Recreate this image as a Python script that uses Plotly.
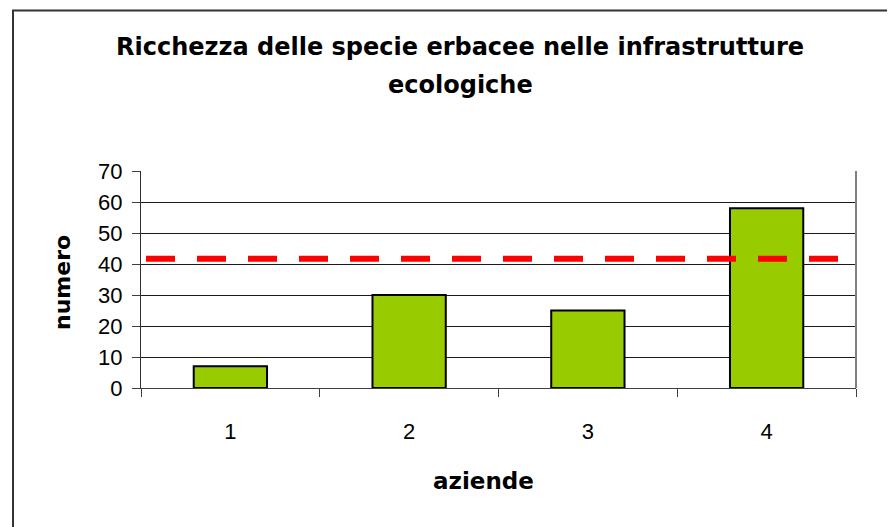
import plotly.graph_objects as go

categories = ["1", "2", "3", "4"]
values = [7, 30, 25, 58]
reference_value = 41.7
y_ticks = [0, 10, 20, 30, 40, 50, 60, 70]

title_line1 = "Ricchezza delle specie erbacee nelle infrastrutture"
title_line2 = "ecologiche"
x_title = "aziende"
y_title = "numero"

FONT = "Liberation Sans, Arial, sans-serif"
TFONT = "DejaVu Sans, Liberation Sans, sans-serif"

OFF = 8  # default body margin of the html page
W, H = 895 - OFF, 527 - OFF
# plot area in screen pixels: x 141..856, y 171..388
L, T = 141 - OFF, 171 - OFF
R = W - (856 - OFF)
B = H - (388 - OFF)
pw, ph = W - L - R, H - T - B

def sx(px):
    return (px - OFF - L) / pw

def sy(py):
    return (H - B - (py - OFF)) / ph

fig = go.Figure()
fig.add_trace(go.Bar(
    x=categories, y=values,
    marker=dict(color="#99CC00", line=dict(color="#000000", width=2)),
    width=0.41,
    hoverinfo="x+y",
))

fig.update_layout(
    width=W, height=H,
    margin=dict(l=L, r=R, t=T, b=B, autoexpand=False),
    paper_bgcolor="white", plot_bgcolor="white",
    showlegend=False,
    font=dict(family=FONT, size=22, color="#000000"),
    xaxis=dict(
        type="category",
        tickson="boundaries",
        ticks="outside", ticklen=8, tickcolor="#404040", tickwidth=1,
        showline=True, linecolor="#404040", linewidth=1,
        showgrid=False,
        tickfont=dict(family=FONT, size=22),
        ticklabelstandoff=24,
        range=[-0.5, 3.5],
    ),
    yaxis=dict(
        range=[0, 70], tickvals=y_ticks,
        ticks="outside", ticklen=8, tickcolor="#404040", tickwidth=1,
        showline=True, linecolor="#303030", linewidth=1,
        showgrid=True, gridcolor="#1a1a1a", gridwidth=1,
        zeroline=False,
        tickfont=dict(family=FONT, size=22),
        ticklabelstandoff=5,
    ),
)

# right border of plot area
fig.add_shape(type="line", xref="x domain", yref="y domain",
              x0=1, x1=1, y0=0, y1=1, line=dict(color="#808080", width=2))

# reference dashed line
fig.add_shape(type="line", xref="x domain", yref="y",
              x0=0.007, x1=0.99, y0=reference_value, y1=reference_value,
              line=dict(color="#FF0000", width=6, dash="29px,22px"))

# chart outer border
fig.add_shape(type="rect", xref="paper", yref="paper",
              x0=sx(13), x1=sx(905),
              y0=sy(540), y1=sy(10.5),
              line=dict(color="#333333", width=2), fillcolor="rgba(0,0,0,0)",
              layer="below")

# title (two lines)
fig.add_annotation(text="<b>" + title_line1 + "</b>", xref="paper", yref="paper",
                   x=sx(460), y=sy(47), xanchor="center", yanchor="middle",
                   showarrow=False, font=dict(family=TFONT, size=24))
fig.add_annotation(text="<b>" + title_line2 + "</b>", xref="paper", yref="paper",
                   x=sx(460), y=sy(85), xanchor="center", yanchor="middle",
                   showarrow=False, font=dict(family=TFONT, size=24))
# x title
fig.add_annotation(text="<b>" + x_title + "</b>", xref="paper", yref="paper",
                   x=sx(483), y=sy(481), xanchor="center", yanchor="middle",
                   showarrow=False, font=dict(family=TFONT, size=23))
# y title
fig.add_annotation(text="<b>" + y_title + "</b>", xref="paper", yref="paper",
                   x=sx(62), y=sy(283), xanchor="center", yanchor="middle",
                   showarrow=False, textangle=-90, font=dict(family=TFONT, size=22))

fig.write_html("out.html")
